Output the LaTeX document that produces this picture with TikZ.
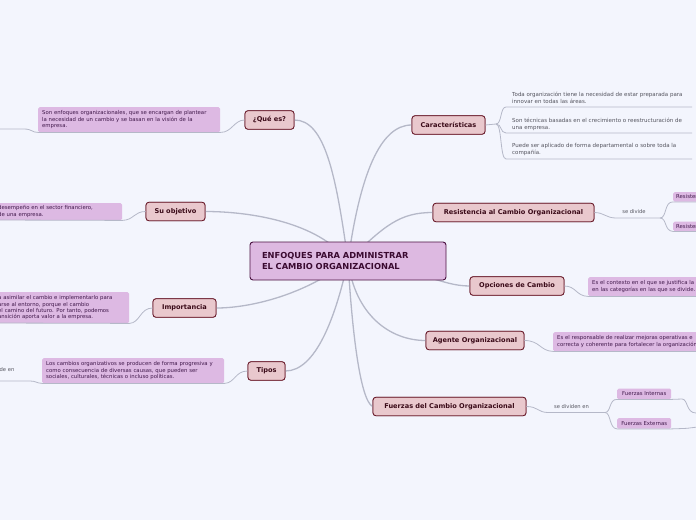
\documentclass[tikz,border=0pt]{standalone}
\usepackage{fontspec}
\setmainfont{DejaVu Sans}
\definecolor{bgcol}{HTML}{F3F5FD}
\definecolor{rootfill}{HTML}{DDB9E1}
\definecolor{rootborder}{HTML}{4A1040}
\definecolor{roottext}{HTML}{3A0A30}
\definecolor{topicfill}{HTML}{E9C8CD}
\definecolor{topicborder}{HTML}{6A1C2C}
\definecolor{topictext}{HTML}{3A0A18}
\definecolor{notefill}{HTML}{DDB9E3}
\definecolor{notetext}{HTML}{40184A}
\definecolor{linecol}{HTML}{B5B8C8}
\definecolor{graytext}{HTML}{55555F}
\begin{document}
\begin{tikzpicture}[x=1pt,y=-1pt,
  rootbox/.style={draw=rootborder, fill=rootfill, rounded corners=3pt, line width=0.9pt,
    font=\bfseries\fontsize{8.3}{11}\selectfont, text=roottext, align=left,
    text width=172pt, inner xsep=12pt, minimum width=196pt, minimum height=38pt},
  topic/.style={draw=topicborder, fill=topicfill, rounded corners=3pt, line width=0.8pt,
    font=\bfseries\fontsize{6.6}{8}\selectfont, text=topictext, inner xsep=3pt,
    minimum height=18.5pt},
  note/.style={fill=notefill, rounded corners=1.5pt, font=\fontsize{5.35}{6.5}\selectfont,
    text=notetext, align=left, inner ysep=1pt, anchor=north west},
  item/.style={font=\fontsize{5.5}{7}\selectfont, text=graytext, align=left,
    anchor=north west, inner sep=0pt},
  lbl/.style={font=\fontsize{5.2}{6}\selectfont, text=graytext, inner sep=0pt},
  conn/.style={draw=linecol, line width=0.8pt},
  main/.style={draw=linecol, line width=1.3pt}]
\useasboundingbox (0,0) rectangle (696,520);
\fill[bgcol] (0,0) rectangle (696,520);
\begin{scope}
\clip (0,0) rectangle (696,520);

% ---------- nodes ----------
\coordinate (c) at (348,261);
\node[topic, minimum width=49pt] (qe) at (269.5,120) {¿Qué es?};
\node[topic, minimum width=59pt] (so) at (175.5,211.5) {Su objetivo};
\node[topic, minimum width=63pt] (imp) at (184.5,308) {Importancia};
\node[topic, minimum width=37pt] (tip) at (266.5,371) {Tipos};
\node[topic, minimum width=73pt] (car) at (448.5,125) {Características};
\node[topic, minimum width=161pt] (res) at (513.5,212.5) {Resistencia al Cambio Organizacional};
\node[topic, minimum width=94pt] (opc) at (517,286) {Opciones de Cambio};
\node[topic, minimum width=98pt] (age) at (475,340.5) {Agente Organizacional};
\node[topic, minimum width=153pt] (fue) at (449.5,406.5) {Fuerzas del Cambio Organizacional};

\node[note, inner xsep=4pt, text width=174pt, minimum height=25pt] (nqe) at (38,107)
 {Son enfoques organizacionales, que se encargan de plantear\\la necesidad de un cambio y  se basan en la visión de la\\empresa.};
\node[note, inner xsep=8pt, text width=116pt, minimum height=17pt] (nso) at (-10,203)
 {desempeño en el sector financiero,\\de una empresa.};
\node[note, inner xsep=8pt, text width=123pt, minimum height=31pt, font=\fontsize{5.35}{6.2}\selectfont] (nimp) at (-10,292)
 {a asimilar el cambio e implementarlo para\\arse al entorno, porque el cambio\\el camino del futuro. Por tanto, podemos\\ansición aporta valor a la empresa.};
\node[note, inner xsep=4pt, text width=174pt, minimum height=25pt] (ntip) at (42,358)
 {Los cambios organizativos se producen de forma progresiva y\\como consecuencia de diversas causas, que pueden ser\\sociales, culturales, técnicas o incluso políticas.};
\node[note, inner xsep=4pt, text width=150pt, minimum height=19pt] (nopc) at (588,277)
 {Es el contexto en el que se justifica la\\en las categorías en las que se divide.};
\node[note, inner xsep=4pt, text width=160pt, minimum height=19pt] (nage) at (553,332)
 {Es el  responsable de realizar mejoras operativas e\\correcta y coherente para fortalecer la organización};
\node[note, inner xsep=3pt, text width=50pt, minimum height=9.5pt] (r1) at (673,192) {Resistencia};
\node[note, inner xsep=3pt, text width=50pt, minimum height=9.5pt] (r2) at (673,221.5) {Resistencia};
\node[note, inner xsep=3pt, minimum width=54pt, minimum height=10.5pt, align=center] (fi) at (617,388.5) {Fuerzas Internas};
\node[note, inner xsep=3pt, minimum width=54pt, minimum height=10.5pt, align=center] (fe) at (617,418) {Fuerzas Externas};

\node[item] (i1) at (512,91.5) {Toda organización tiene la necesidad de estar preparada para\\innovar en todas las áreas.};
\node[item] (i2) at (512,117.5) {Son técnicas basadas en el crecimiento o reestructuración de\\una empresa.};
\node[item] (i3) at (512,143.5) {Puede ser aplicado de forma departamental o sobre toda la\\compañía.};

\node[lbl, anchor=east] (lde) at (14.5,370) {se divide en};
\node[lbl] (lsd) at (634,212) {se divide};
\node[lbl] (lsde) at (571.5,407) {se dividen en};
\coordinate (ql) at (-5,129);
\coordinate (sl) at (-5,220);
\coordinate (il) at (-5,323);
\coordinate (tl) at (-5,381);
\coordinate (rb) at (660,218);
\coordinate (fb) at (605,412.5);
\coordinate (cb) at (496,124);

% ---------- central connectors ----------
\draw[main] (c) .. controls (336,175) and (325,120) .. (qe.east);
\draw[main] (c) .. controls (318,222) and (250,211.5) .. (so.east);
\draw[main] (c) .. controls (305,295) and (250,308) .. (imp.east);
\draw[main] (c) .. controls (335,320) and (315,371) .. (tip.east);
\draw[main] (c) .. controls (360,175) and (380,125) .. (car.west);
\draw[main] (c) .. controls (385,225) and (400,212.5) .. (res.west);
\draw[main] (c) .. controls (420,268) and (440,286) .. (opc.west);
\draw[main] (c) .. controls (355,315) and (390,340.5) .. (age.west);
\draw[main] (c) .. controls (352,330) and (360,400) .. (fue.west);
\node[rootbox] (root) at (c) {ENFOQUES PARA ADMINISTRAR\\EL CAMBIO ORGANIZACIONAL};
% redraw topics over lines
\node[topic, minimum width=49pt] at (qe) {¿Qué es?};
\node[topic, minimum width=59pt] at (so) {Su objetivo};
\node[topic, minimum width=63pt] at (imp) {Importancia};
\node[topic, minimum width=37pt] at (tip) {Tipos};
\node[topic, minimum width=73pt] at (car) {Características};
\node[topic, minimum width=161pt] at (res) {Resistencia al Cambio Organizacional};
\node[topic, minimum width=94pt] at (opc) {Opciones de Cambio};
\node[topic, minimum width=98pt] at (age) {Agente Organizacional};
\node[topic, minimum width=153pt] at (fue) {Fuerzas del Cambio Organizacional};

% ---------- secondary connectors ----------
\draw[conn] (qe.west) .. controls (234,120) and (232,132.5) .. (nqe.south east) -- (nqe.south west)
  .. controls (32,132.5) and (32,129) .. (24,129) -- (ql);
\draw[conn] (so.west) .. controls (134,211.5) and (134,220) .. (nso.south east) -- (sl);
\draw[conn] (imp.west) .. controls (140,308) and (140,323) .. (nimp.south east) -- (il);
\draw[conn] (tip.west) .. controls (235,371) and (235,383) .. (ntip.south east) -- (ntip.south west)
  .. controls (36,383) and (36,381) .. (30,381) -- (tl);
\draw[conn] (car.east) -- (cb);
\draw[conn] (cb) .. controls (502,124) and (500,107) .. (506,107) -- (692,107);
\draw[conn] (cb) .. controls (502,124) and (500,133) .. (506,133) -- (692,133);
\draw[conn] (cb) .. controls (502,124) and (500,159) .. (506,159) -- (692,159);
\draw[conn] (res.east) .. controls (604,212.5) and (606,218) .. (616,218) -- (rb);
\draw[conn] (rb) .. controls (667,218) and (664,201.5) .. (r1.south west) -- (r1.south east);
\draw[conn] (rb) .. controls (667,218) and (664,231) .. (r2.south west) -- (r2.south east);
\draw[conn] (opc.east) .. controls (576,286) and (576,296) .. (nopc.south west) -- (nopc.south east);
\draw[conn] (age.east) .. controls (540,340.5) and (540,351) .. (nage.south west) -- (nage.south east);
\draw[conn] (fue.east) .. controls (538,406.5) and (538,412.5) .. (548,412.5) -- (fb);
\draw[conn] (fb) .. controls (611,412.5) and (609,399) .. (fi.south west) -- (fi.south east)
  -- (682,399) .. controls (688,399) and (686,413) .. (696,413) -- (702,413);
\draw[conn] (fb) .. controls (611,412.5) and (609,428.5) .. (fe.south west) -- (fe.south east)
  -- (683,428.5) .. controls (690,428.5) and (692,427) .. (702,427);
\end{scope}
\end{tikzpicture}
\end{document}
